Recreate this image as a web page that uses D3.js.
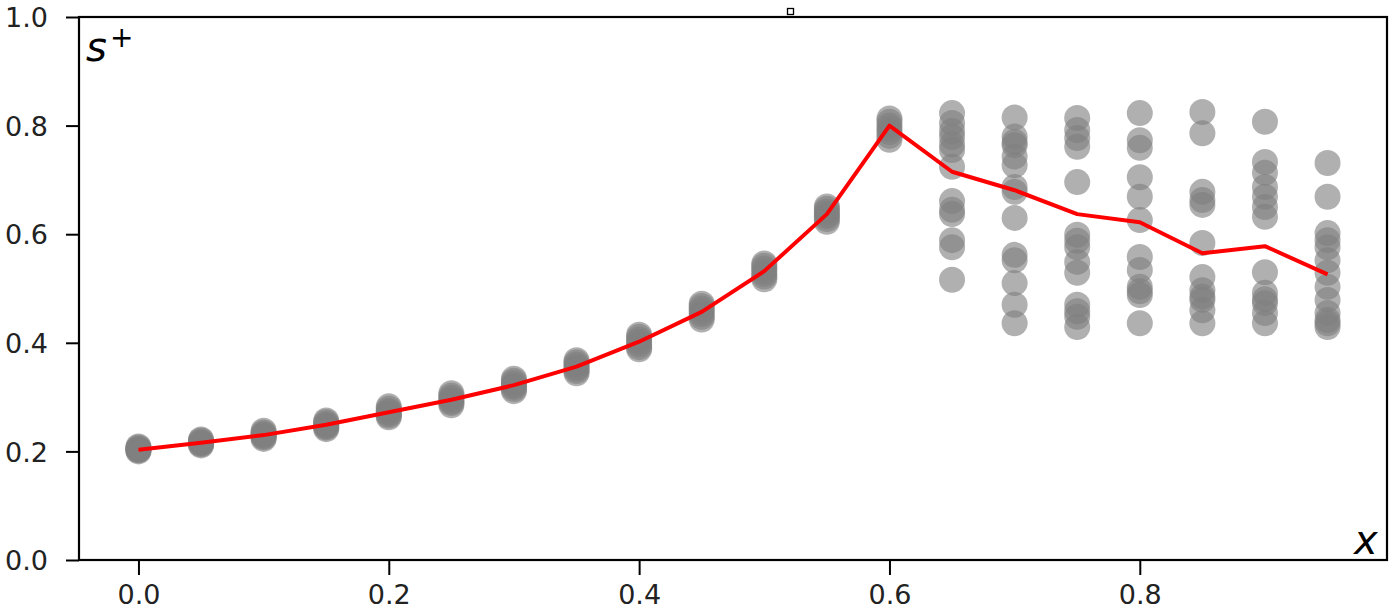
<!DOCTYPE html>
<html>
<head>
<meta charset="utf-8">
<script src="https://cdn.jsdelivr.net/npm/d3@7"></script>
<style>
  html, body { margin: 0; padding: 0; background: #fff; }
  svg { display: block; }
</style>
</head>
<body>
<svg id="chart" width="1392" height="611"></svg>
<script>
// ---- data ----
const xValues = [0.0, 0.05, 0.1, 0.15, 0.2, 0.25, 0.3, 0.35, 0.4, 0.45, 0.5, 0.55, 0.6, 0.65, 0.7, 0.75, 0.8, 0.85, 0.9, 0.95];

const sampleValues = [
  [0.200, 0.202, 0.203, 0.204, 0.205, 0.207, 0.209],
  [0.211, 0.213, 0.215, 0.216, 0.218, 0.220, 0.222],
  [0.223, 0.226, 0.228, 0.230, 0.232, 0.235, 0.238],
  [0.241, 0.244, 0.246, 0.248, 0.251, 0.254, 0.257],
  [0.263, 0.266, 0.269, 0.272, 0.275, 0.279, 0.283],
  [0.285, 0.289, 0.292, 0.295, 0.299, 0.303, 0.307],
  [0.311, 0.315, 0.319, 0.322, 0.326, 0.330, 0.334],
  [0.344, 0.348, 0.352, 0.356, 0.360, 0.364, 0.368],
  [0.388, 0.392, 0.397, 0.402, 0.406, 0.411, 0.415],
  [0.443, 0.448, 0.453, 0.458, 0.463, 0.468, 0.472],
  [0.517, 0.522, 0.527, 0.532, 0.537, 0.542, 0.546],
  [0.623, 0.628, 0.633, 0.637, 0.642, 0.647, 0.651],
  [0.774, 0.781, 0.788, 0.794, 0.800, 0.807, 0.813],
  [0.823, 0.805, 0.790, 0.779, 0.765, 0.755, 0.724, 0.661, 0.645, 0.637, 0.589, 0.576, 0.516],
  [0.815, 0.780, 0.770, 0.764, 0.743, 0.727, 0.687, 0.678, 0.630, 0.562, 0.552, 0.510, 0.470, 0.436],
  [0.814, 0.792, 0.777, 0.761, 0.696, 0.599, 0.588, 0.576, 0.549, 0.529, 0.470, 0.458, 0.448, 0.429],
  [0.823, 0.773, 0.759, 0.705, 0.669, 0.626, 0.558, 0.534, 0.503, 0.495, 0.488, 0.436],
  [0.825, 0.786, 0.678, 0.663, 0.654, 0.584, 0.521, 0.497, 0.485, 0.479, 0.460, 0.436],
  [0.807, 0.733, 0.713, 0.687, 0.669, 0.650, 0.632, 0.530, 0.492, 0.480, 0.473, 0.455, 0.436],
  [0.731, 0.669, 0.602, 0.589, 0.576, 0.552, 0.529, 0.503, 0.479, 0.455, 0.442, 0.436, 0.429]
];

const meanValues = [0.203, 0.216, 0.230, 0.249, 0.272, 0.295, 0.322, 0.356, 0.402, 0.457, 0.532, 0.637, 0.800, 0.715, 0.681, 0.637, 0.622, 0.565, 0.578, 0.526];

const xTickValues = [0.0, 0.2, 0.4, 0.6, 0.8];
const yTickValues = [0.0, 0.2, 0.4, 0.6, 0.8, 1.0];

// ---- layout ----
const svg = d3.select("#chart");
const plotLeft = 79, plotRight = 1387, plotTop = 17, plotBottom = 560;

const x = d3.scaleLinear().domain([-0.0475, 0.9975]).range([plotLeft, plotRight]);
const y = d3.scaleLinear().domain([0, 1]).range([plotBottom, plotTop]);

// points
const pts = [];
xValues.forEach((xv, i) => sampleValues[i].forEach(v => pts.push([xv, v])));

svg.append("g")
  .selectAll("circle")
  .data(pts)
  .join("circle")
  .attr("cx", d => x(d[0]))
  .attr("cy", d => y(d[1]))
  .attr("r", 13)
  .attr("fill", "#808080")
  .attr("fill-opacity", 0.62);

// mean line
const line = d3.line().x((d, i) => x(xValues[i])).y(d => y(d));
svg.append("path")
  .datum(meanValues)
  .attr("d", line)
  .attr("fill", "none")
  .attr("stroke", "#ff0000")
  .attr("stroke-width", 4)
  .attr("stroke-linejoin", "round");

// axes
const fmt = d3.format(".1f");
const xAxis = svg.append("g")
  .attr("transform", `translate(0,${plotBottom})`)
  .call(d3.axisBottom(x).tickValues(xTickValues).tickFormat(fmt).tickSize(15).tickPadding(10));
const yAxis = svg.append("g")
  .attr("transform", `translate(${plotLeft},0)`)
  .call(d3.axisLeft(y).tickValues(yTickValues).tickFormat(fmt).tickSize(13).tickPadding(18));

[xAxis, yAxis].forEach(g => {
  g.select(".domain").remove();
  g.selectAll(".tick line").attr("stroke", "#000").attr("stroke-width", 2);
  g.selectAll(".tick text")
    .attr("fill", "#222")
    .style("font-family", "'DejaVu Sans', sans-serif")
    .style("font-size", "27px");
});
yAxis.selectAll(".tick text").attr("dy", "0.36em");
xAxis.selectAll(".tick text").attr("dy", "0.72em");

// frame
svg.append("rect")
  .attr("x", plotLeft).attr("y", plotTop)
  .attr("width", plotRight - plotLeft).attr("height", plotBottom - plotTop)
  .attr("fill", "none").attr("stroke", "#000").attr("stroke-width", 2.2);

// axis labels inside the frame
svg.append("text")
  .attr("x", 86).attr("y", 61)
  .style("font-family", "'DejaVu Sans', sans-serif")
  .style("font-style", "italic")
  .style("font-size", "40px")
  .attr("fill", "#000")
  .text("s");
svg.append("text")
  .attr("x", 110).attr("y", 47)
  .style("font-family", "'DejaVu Sans', sans-serif")
  .style("font-size", "28px")
  .attr("fill", "#000")
  .text("+");

svg.append("text")
  .attr("x", 1354).attr("y", 554)
  .style("font-family", "'DejaVu Sans', sans-serif")
  .style("font-style", "italic")
  .style("font-size", "40px")
  .attr("fill", "#000")
  .text("x");

// small marker square above the frame
svg.append("rect")
  .attr("x", 787.5).attr("y", 8.5).attr("width", 6).attr("height", 6)
  .attr("fill", "#fff").attr("stroke", "#000").attr("stroke-width", 1.3);
</script>
</body>
</html>
